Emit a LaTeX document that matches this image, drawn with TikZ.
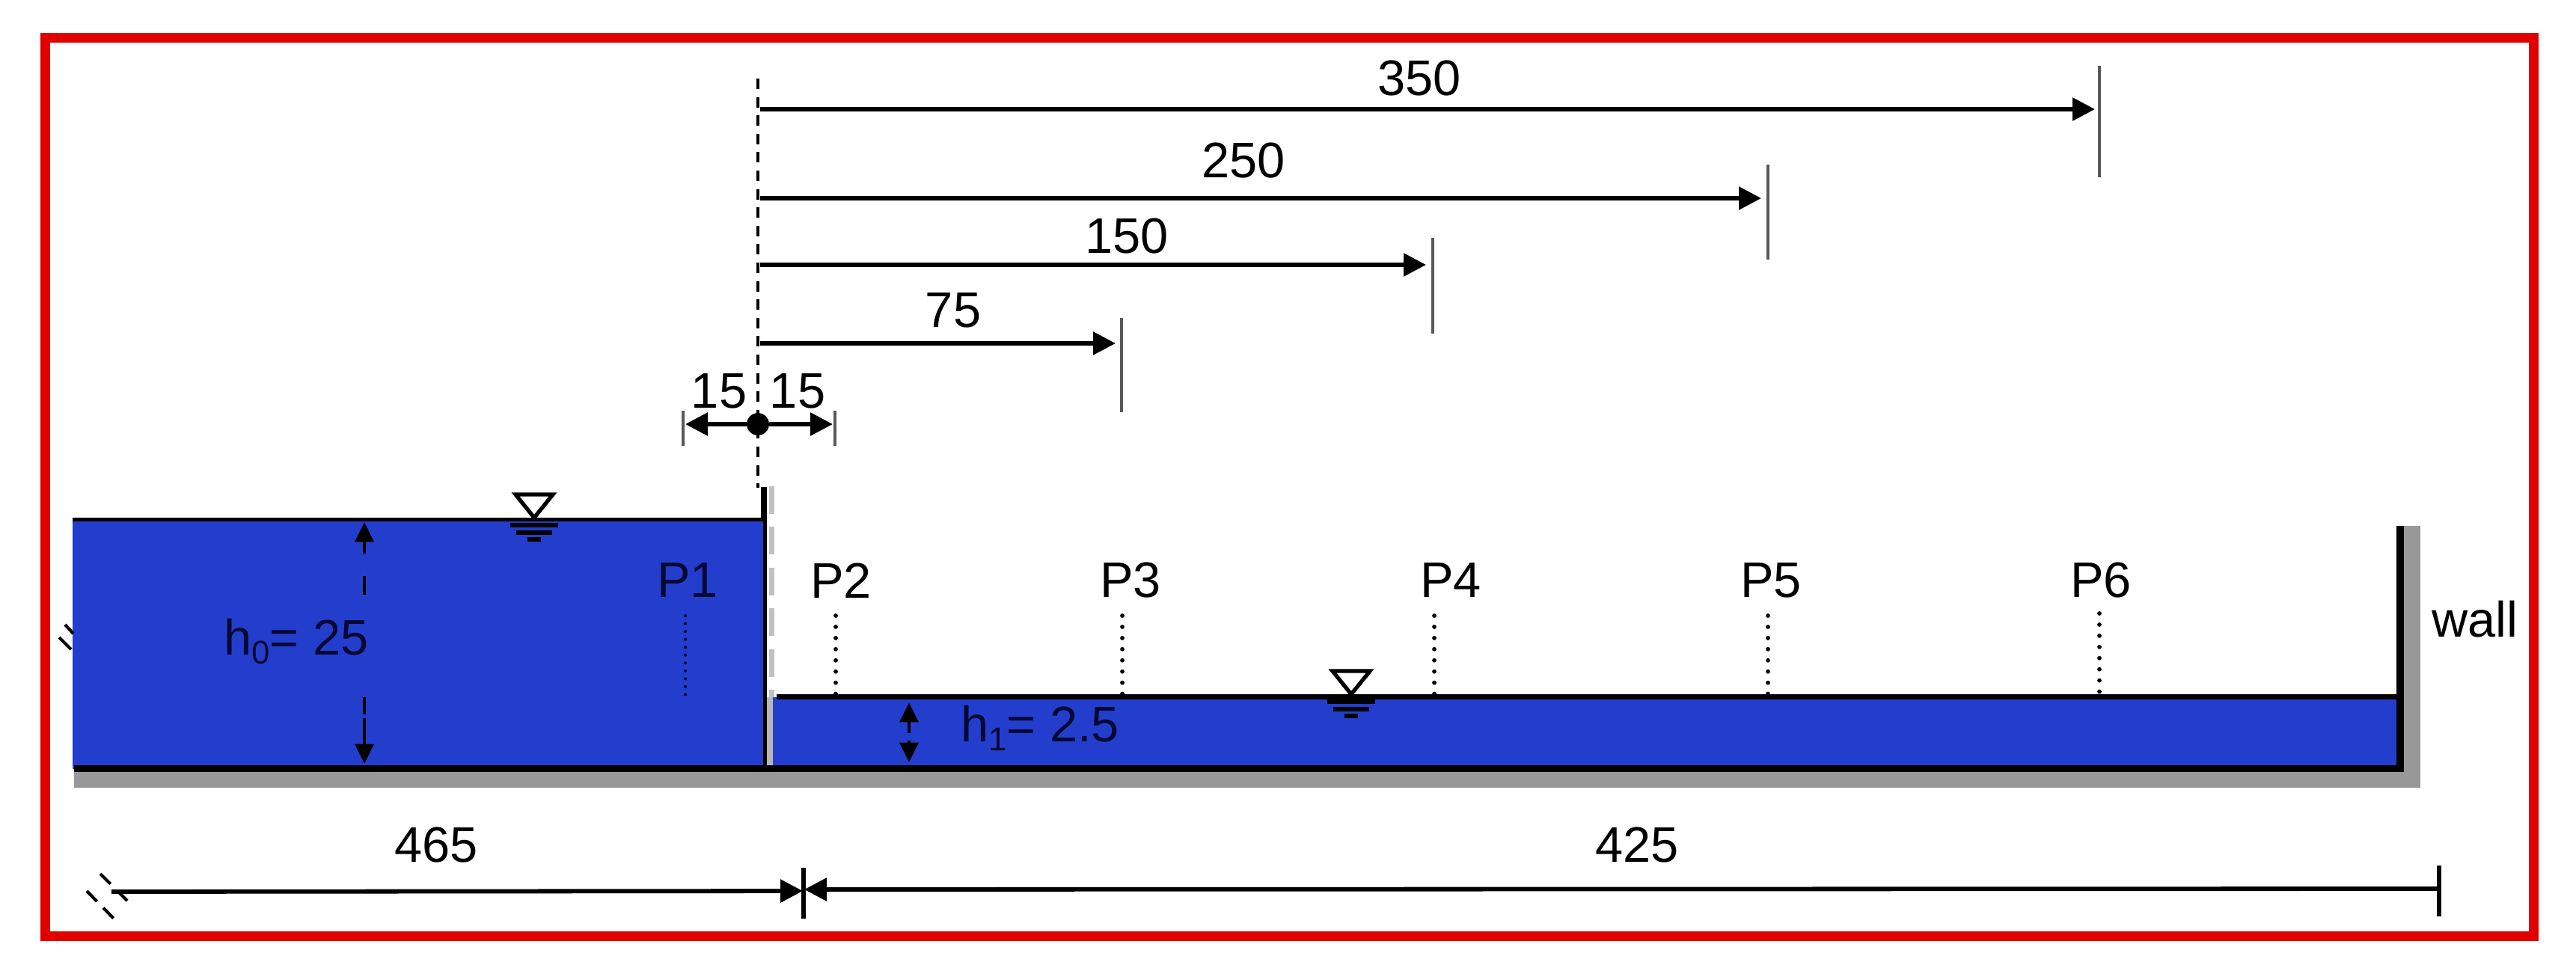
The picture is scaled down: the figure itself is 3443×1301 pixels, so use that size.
\documentclass[tikz,border=0pt]{standalone}
\usepackage{fontspec}
\setmainfont{Liberation Sans}
\usetikzlibrary{arrows.meta}
\definecolor{waterblue}{RGB}{35,62,205}
\definecolor{framered}{RGB}{224,0,0}
\definecolor{wallgray}{RGB}{152,152,152}
\definecolor{inkblue}{RGB}{5,8,50}
\newcommand{\subdigit}[1]{\raisebox{-.18em}{\fontsize{25}{25}\selectfont #1}}
\tikzset{
    dimline/.style={line width=3.3pt, -{Triangle[length=17pt,width=17pt]}},
    heightline/.style={line width=2.8pt, -{Triangle[length=15pt,width=14pt]}},
    tickline/.style={line width=2.1pt, black!65},
    gaugeline/.style={line width=3.3pt, line cap=round, dash pattern=on 0pt off 8.5pt},
    breakline/.style={line width=2.4pt, dash pattern=on 11pt off 7pt},
    lab/.style={font=\fontsize{38}{40}\selectfont, inner sep=0pt},
    levelmark/.style={line width=3pt}
}
\begin{document}
\begin{tikzpicture}[x=0.02cm, y=-0.02cm]
    \useasboundingbox (0,0) rectangle (3443,1301);
    \fill[white] (0,0) rectangle (3443,1301);
    \draw[framered, line width=7.4pt] (60,50.5) rectangle (3386,1251);
    % channel floor and walls
    \fill[wallgray] (99,1028) rectangle (3235,1053);
    \fill[wallgray] (3213,703) rectangle (3235,1053);
    \fill[waterblue] (97,694) rectangle (1021,1028);
    \fill[waterblue] (1033,932) rectangle (3203,1028);
    \fill[wallgray!70] (1025,932) rectangle (1033,1024);
    \draw[wallgray!60, line width=4pt, dash pattern=on 21pt off 10pt] (1031,650) -- (1031,932);
    \fill[black] (1038,928) rectangle (3208,935);
    \fill[black] (97,692) rectangle (1024,697);
    \fill[black] (99,1023) rectangle (3213,1032);
    \fill[black] (3203,703) rectangle (3213,1032);
    \fill[black] (1017,651) rectangle (1025,697);
    \fill[black] (1020,697) rectangle (1025,1031);
    % breaks
    \coordinate (brA) at (79,852); \coordinate (brB) at (95,868);
    \coordinate (brC) at (87,835); \coordinate (brD) at (98,847);
    \draw[line width=2.4pt] (brA) -- (brB);
    \draw[line width=2.4pt] (brC) -- (brD);
    \coordinate (brE) at (134,1168); \coordinate (brF) at (174,1208);
    \coordinate (brG) at (116,1191); \coordinate (brH) at (156,1232);
    \draw[breakline] (brE) -- (brF);
    \draw[breakline] (brG) -- (brH);
    % section line
    \coordinate (axisT) at (1013,105);
    \coordinate (axisB) at (1013,652);
    \draw[line width=2pt, dash pattern=on 8pt off 6pt] (axisT) -- (axisB);
    % distances from the gate
    \foreach \name/\tipx/\liney/\tickx/\ticktop/\tickbot/\labx/\laby in {
        350/2800/146/2806/88/237/1897/105,
        250/2354/265/2363/220/347/1662/215,
        150/1906/354/1915/318/446/1506/316,
        75/1491/459/1499/425/551/1274/415}{
        \coordinate (start\name) at (1016,\liney);
        \coordinate (end\name) at (\tipx,\liney);
        \coordinate (tickT\name) at (\tickx,\ticktop);
        \coordinate (tickB\name) at (\tickx,\tickbot);
        \draw[dimline] (start\name) -- (end\name);
        \draw[tickline] (tickT\name) -- (tickB\name);
        \node[lab] (len\name) at (\labx,\laby) {\name};
    }
    % 15 15
    \node[circle, fill=black, inner sep=0pt, minimum size=17pt] (gatedot) at (1013,567) {};
    \coordinate (leftT) at (913,549); \coordinate (leftB) at (913,596);
    \coordinate (rightT) at (1116,549); \coordinate (rightB) at (1116,596);
    \coordinate (leftE) at (916,567); \coordinate (rightE) at (1113,567);
    \draw[tickline] (leftT) -- (leftB);
    \draw[tickline] (rightT) -- (rightB);
    \draw[dimline] (gatedot) -- (leftE);
    \draw[dimline] (gatedot) -- (rightE);
    \node[lab] (fifteenL) at (961,523) {15};
    \node[lab] (fifteenR) at (1066,523) {15};
    % water level marks
    \foreach \name/\xx/\yy in {up/714/692, down/1806/928}{
        \coordinate (tri\name) at (\xx,\yy);
        \draw[levelmark, fill=white] (tri\name) -- ++(-25,-31) -- ++(50,0) -- cycle;
        \draw[levelmark] (\xx-32,\yy+10) -- (\xx+32,\yy+10);
        \draw[levelmark] (\xx-24,\yy+20) -- (\xx+24,\yy+20);
        \draw[levelmark] (\xx-9,\yy+29) -- (\xx+9,\yy+29);
    }
    % gauges
    \foreach \name/\labx/\dotx/\dottop/\dotbot in {
        P2/1124/1117/823/928,
        P3/1511/1500/823/928,
        P4/1939/1917/823/928,
        P5/2367/2363/823/928,
        P6/2808/2806/820/928}{
        \node[lab] (\name) at (\labx,776) {\name};
        \coordinate (\name t) at (\dotx,\dottop);
        \coordinate (\name b) at (\dotx,\dotbot);
        \draw[gaugeline] (\name t) -- (\name b);
    }
    \node[lab, text=inkblue] (P1) at (919,776) {P1};
    \coordinate (P1t) at (916,823);
    \coordinate (P1b) at (916,937);
    \draw[gaugeline, line width=2.4pt, dash pattern=on 0pt off 6pt, inkblue] (P1t) -- (P1b);
    % depths
    \node[lab, text=inkblue] (hzero) at (396,858) {h\subdigit{0}= 25};
    \coordinate (hzeroT) at (487,740);
    \coordinate (hzeroTip) at (487,698);
    \coordinate (hzeroB) at (487,960);
    \coordinate (hzeroBip) at (487,1021);
    \draw[heightline] (hzeroT) -- (hzeroTip);
    \draw[heightline] (hzeroB) -- (hzeroBip);
    \coordinate (dashA) at (487,770); \coordinate (dashB) at (487,795);
    \coordinate (dashC) at (487,932); \coordinate (dashD) at (487,955);
    \draw[line width=2.8pt] (dashA) -- (dashB);
    \draw[line width=2.8pt] (dashC) -- (dashD);
    \node[lab, text=inkblue] (hone) at (1390,973) {h\subdigit{1}= 2.5};
    \coordinate (honeM) at (1215,980);
    \coordinate (honeN) at (1215,990);
    \coordinate (honeT) at (1215,939);
    \coordinate (honeB) at (1215,1019);
    \draw[heightline] (honeM) -- (honeT);
    \draw[heightline] (honeN) -- (honeB);
    \node[lab] (wall) at (3308,828) {wall};
    % lengths below
    \coordinate (lenL) at (149,1192);
    \coordinate (lenM) at (1073,1191);
    \coordinate (lenN) at (1075,1189);
    \coordinate (lenR) at (3258,1188);
    \coordinate (midT) at (1074,1160); \coordinate (midB) at (1074,1228);
    \coordinate (endT) at (3260,1157); \coordinate (endB) at (3260,1225);
    \draw[dimline] (lenL) -- (lenM);
    \draw[dimline] (lenR) -- (lenN);
    \draw[line width=3pt] (midT) -- (midB);
    \draw[line width=3pt] (endT) -- (endB);
    \node[lab] (lenA) at (583,1130) {465};
    \node[lab] (lenB) at (2188,1130) {425};
\end{tikzpicture}
\end{document}
